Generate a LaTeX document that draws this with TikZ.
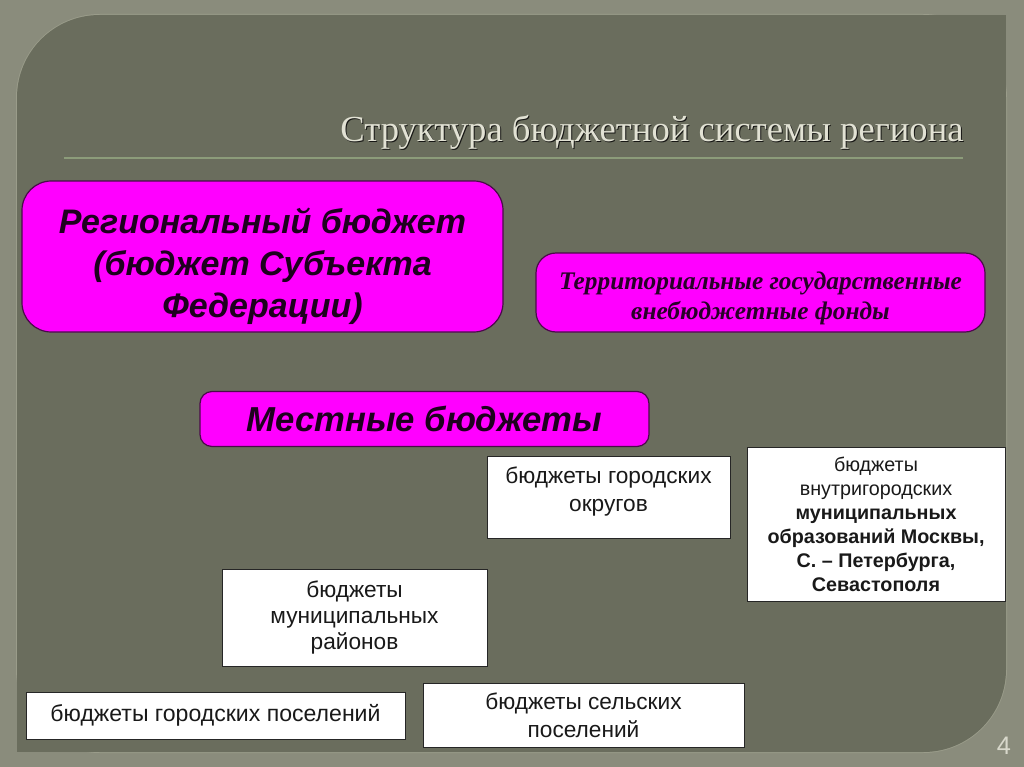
\documentclass[tikz,border=0pt]{standalone}
\usepackage{fontspec}
\setmainfont{Liberation Sans}
\newfontfamily\titlefont{Liberation Serif}

\definecolor{framecol}{HTML}{8A8C7C}
\definecolor{panelcol}{HTML}{6A6D5D}
\definecolor{rimcol}{HTML}{9A9C8A}
\definecolor{rulecol}{HTML}{8C9C7A}
\definecolor{magfill}{HTML}{FF00FF}
\definecolor{magline}{HTML}{4A0A4A}
\definecolor{magtext}{HTML}{1E001E}
\definecolor{fundtext}{HTML}{280028}
\definecolor{titlecol}{HTML}{E2E2D4}

\tikzset{
	magbox/.style = {draw = magline, fill = magfill, line width = 0.9pt, align = center, inner sep = 0pt, text = magtext},
	budgetbox/.style = {draw = black!85, fill = white, line width = 0.7pt, align = center, inner sep = 0pt, text = black!90},
	boxtext/.style = {align = center, inner sep = 0pt}
}

\begin{document}
\begin{tikzpicture}[x = 0.75pt, y = -0.75pt]

	\useasboundingbox (0, 0) rectangle (1024, 767);

	% Frame + panel

	\fill [framecol] (0, 0) rectangle (1024, 767);
	\fill [rimcol, rounded corners = 63pt] (16, 14) rectangle (1007, 753);
	\fill [panelcol, rounded corners = 62pt] (17, 15) rectangle (1006, 752);
	\fill [panelcol] (900, 15) rectangle (1006, 120);
	\fill [panelcol] (17, 650) rectangle (120, 752);

	% Title

	\node [titlecol!10!black, font = \titlefont\fontsize{27.5}{32}\selectfont] at (653, 133) {Структура бюджетной системы региона};
	\node (title) [titlecol, font = \titlefont\fontsize{27.5}{32}\selectfont] at (652, 132) {Структура бюджетной системы региона};
	\draw [rulecol, line width = 1.5pt] (64, 158) -- (963, 158);

	% Upper level

	\node (regional) [magbox, rounded corners = 22pt, minimum width = 360.75pt, minimum height = 113.25pt] at (262.5, 256.5) {};
	\node (regional text) [boxtext, text = magtext, font = \fontsize{25.5}{31.5}\selectfont\bfseries\itshape]
		at ([yshift = -7pt] regional.center) {Региональный бюджет\\(бюджет Субъекта\\Федерации)};

	\node (funds) [magbox, rounded corners = 15pt, minimum width = 336.75pt, minimum height = 59.25pt] at (760.5, 292.5) {};
	\node (funds text) [boxtext, text = fundtext, font = \titlefont\fontsize{19}{22.5}\selectfont\bfseries\itshape]
		at ([yshift = -4.5pt] funds.center) {Территориальные государственные\\внебюджетные фонды};

	\node (local) [magbox, rounded corners = 9pt, minimum width = 336.75pt, minimum height = 41.25pt,
		font = \fontsize{26}{31.5}\selectfont\bfseries\itshape] at (424.5, 419) {Местные бюджеты};

	% Local budgets

	\node (urban) [budgetbox, minimum width = 182.25pt, minimum height = 61.5pt] at (608.5, 497) {};
	\node (urban text) [boxtext, text = black!90, font = \fontsize{17}{21}\selectfont]
		at ([yshift = 3.75pt] urban.center) {бюджеты городских\\округов};

	\node (federal) [budgetbox, minimum width = 193.5pt, minimum height = 115.5pt,
		font = \fontsize{14.8}{18}\selectfont] at (876, 524)
		{бюджеты\\внутригородских\\\textbf{муниципальных}\\\textbf{образований Москвы,}\\\textbf{С. – Петербурга,}\\\textbf{Севастополя}};

	\node (districts) [budgetbox, minimum width = 198.75pt, minimum height = 72.75pt,
		font = \fontsize{17}{19.5}\selectfont] at (354.5, 617.5) {бюджеты\\муниципальных\\районов};

	\node (towns) [budgetbox, minimum width = 284.25pt, minimum height = 35.25pt,
		font = \fontsize{17.3}{21}\selectfont] at (215.5, 715.5) {бюджеты городских поселений};

	\node (rural) [budgetbox, minimum width = 240.75pt, minimum height = 48pt,
		font = \fontsize{17}{21}\selectfont] at (583.5, 715) {бюджеты сельских\\поселений};

	% Page number

	\node (page) [titlecol!90!gray, font = \fontsize{19}{22}\selectfont] at (1004, 746) {4};

\end{tikzpicture}
\end{document}
